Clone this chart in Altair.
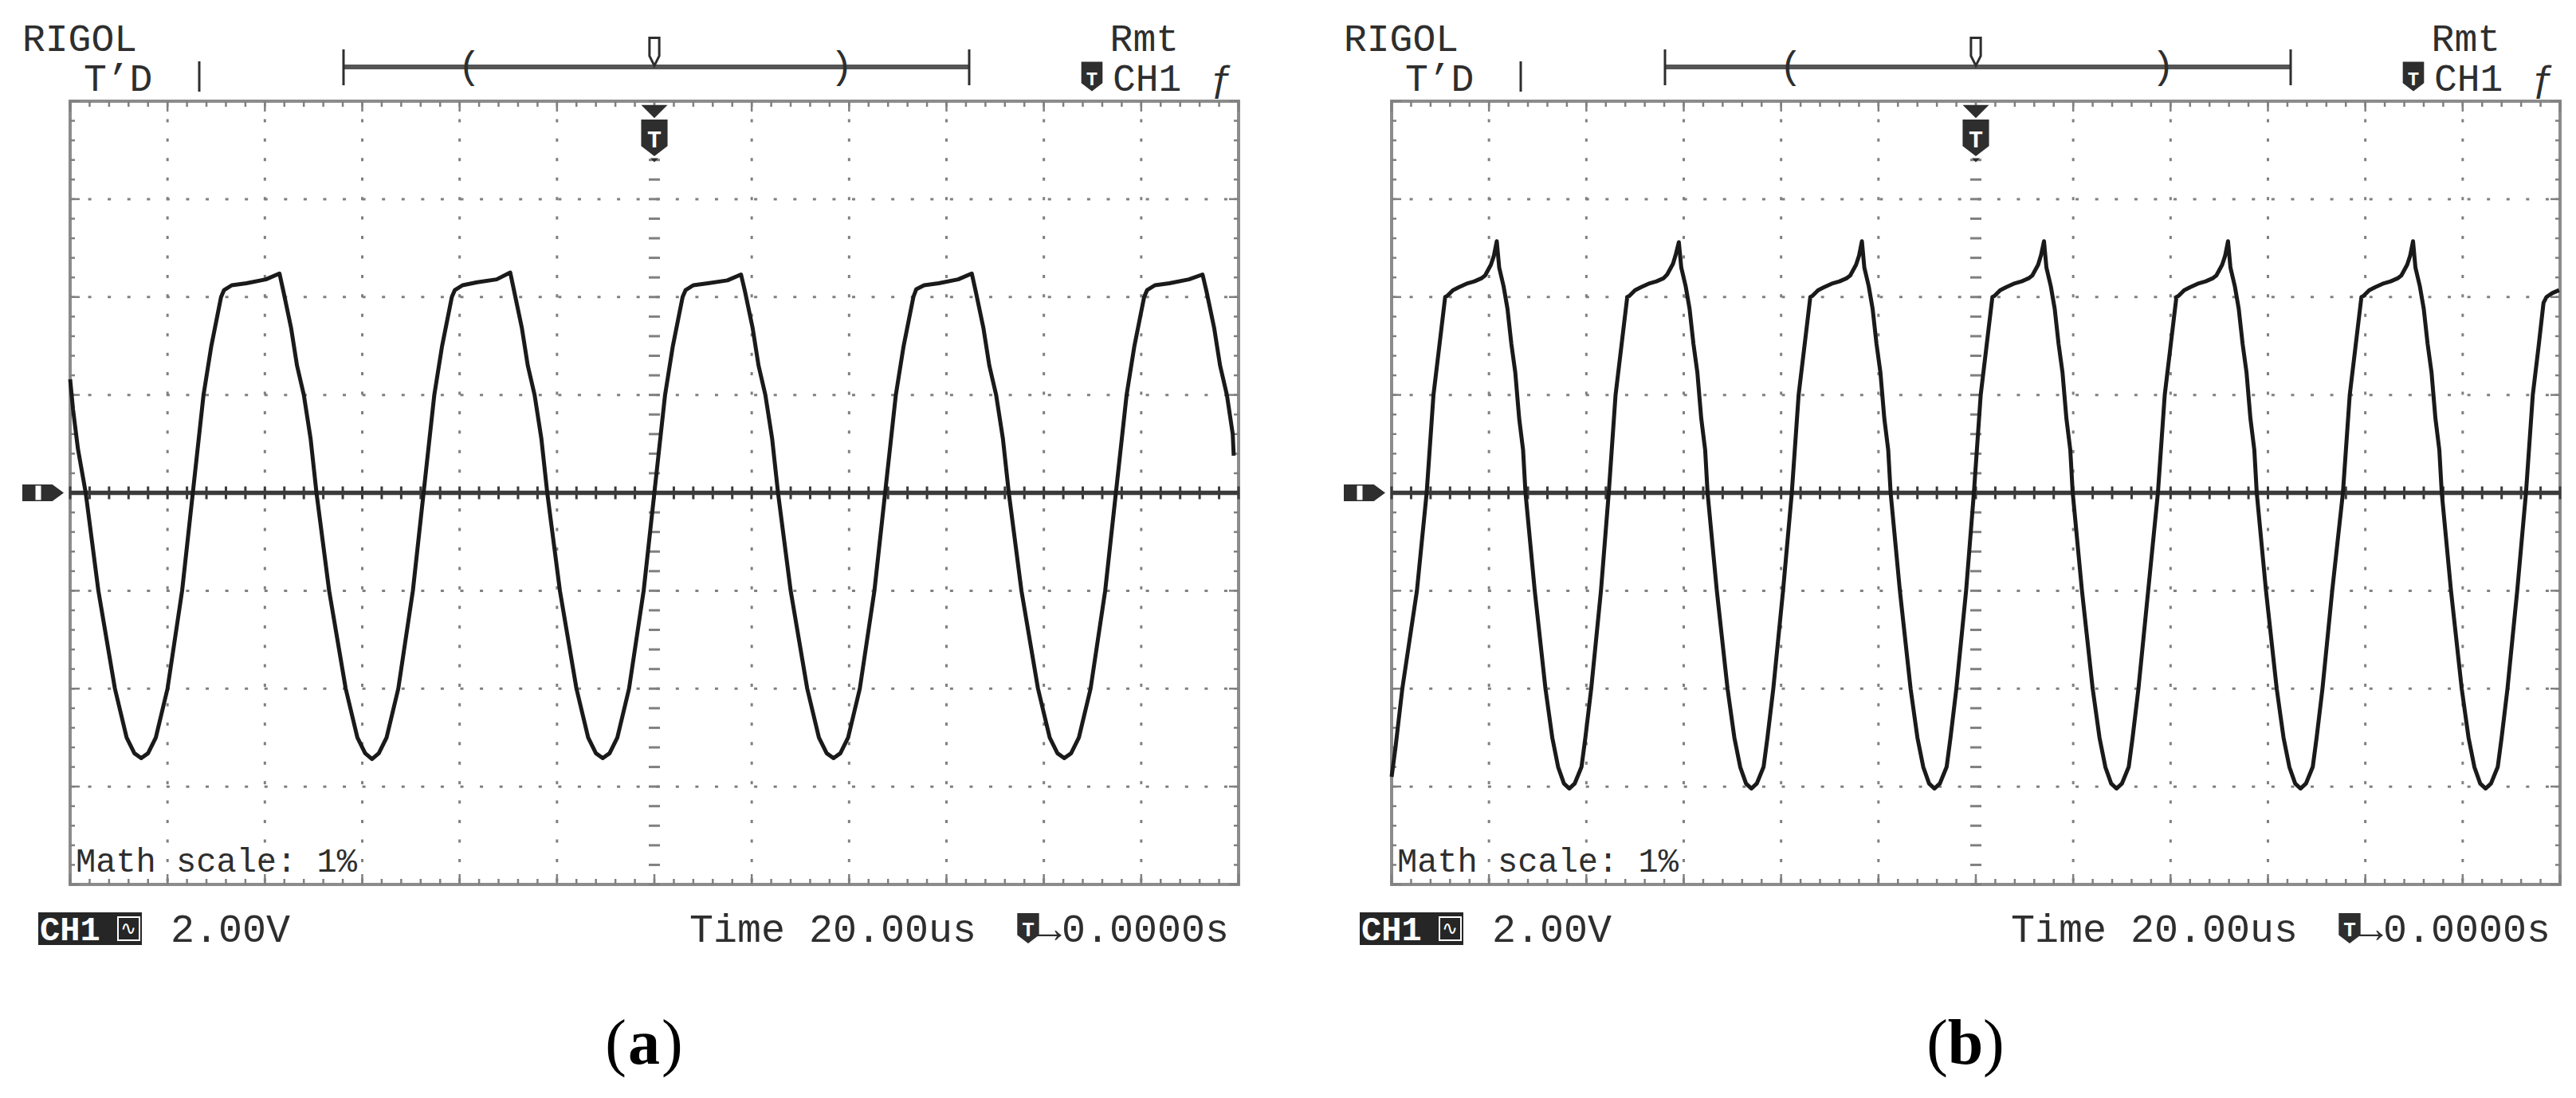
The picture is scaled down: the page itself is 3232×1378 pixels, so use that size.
import altair as alt
import pandas as pd

# ---------------- data read from the two oscilloscope screens ----------------
# x in horizontal divisions (0..12), y in vertical divisions (-4..4)
a_x = ([0.00, 0.03, 0.08]
       + [0.16, 0.29, 0.46, 0.58, 0.66, 0.73, 0.80, 0.88, 1.00, 1.15, 1.26, 1.37, 1.45, 1.55, 1.58, 1.66, 1.81, 2.01, 2.15, 2.19, 2.27, 2.33, 2.40, 2.47]
       + [2.53, 2.66, 2.83, 2.95, 3.03, 3.10, 3.17, 3.25, 3.37, 3.52, 3.63, 3.74, 3.82, 3.92, 3.95, 4.03, 4.18, 4.38, 4.52, 4.56, 4.64, 4.70, 4.77, 4.84]
       + [4.90, 5.03, 5.20, 5.32, 5.40, 5.47, 5.54, 5.62, 5.74, 5.89, 6.00, 6.11, 6.19, 6.29, 6.32, 6.40, 6.55, 6.75, 6.89, 6.93, 7.01, 7.07, 7.14, 7.21]
       + [7.27, 7.40, 7.57, 7.69, 7.77, 7.84, 7.91, 7.99, 8.11, 8.26, 8.37, 8.48, 8.56, 8.66, 8.69, 8.77, 8.92, 9.12, 9.26, 9.30, 9.38, 9.44, 9.51, 9.58]
       + [9.64, 9.77, 9.94, 10.06, 10.14, 10.21, 10.28, 10.36, 10.48, 10.63, 10.74, 10.85, 10.93, 11.03, 11.06, 11.14, 11.29, 11.49, 11.63, 11.67, 11.75, 11.81, 11.88, 11.94, 11.95])
a_y = ([1.16, 0.85, 0.45]
       + [0, -1, -2, -2.5, -2.66, -2.71, -2.66, -2.5, -2, -1, 0, 1, 1.5, 2.0, 2.07, 2.12, 2.14, 2.18, 2.24, 2.06, 1.68, 1.30, 1.0, 0.55]
       + [0, -1, -2, -2.5, -2.66, -2.72, -2.66, -2.5, -2, -1, 0, 1, 1.5, 2.0, 2.07, 2.12, 2.15, 2.18, 2.25, 2.06, 1.68, 1.30, 1.0, 0.55]
       + [0, -1, -2, -2.5, -2.66, -2.71, -2.66, -2.5, -2, -1, 0, 1, 1.5, 2.0, 2.07, 2.12, 2.14, 2.17, 2.23, 2.06, 1.68, 1.30, 1.0, 0.55]
       + [0, -1, -2, -2.5, -2.66, -2.71, -2.66, -2.5, -2, -1, 0, 1, 1.5, 2.0, 2.08, 2.12, 2.14, 2.18, 2.24, 2.06, 1.68, 1.30, 1.0, 0.55]
       + [0, -1, -2, -2.5, -2.66, -2.71, -2.66, -2.5, -2, -1, 0, 1, 1.5, 2.0, 2.07, 2.12, 2.14, 2.18, 2.23, 2.06, 1.68, 1.30, 1.0, 0.60, 0.38])

b_x = ([0.00, 0.04, 0.11, 0.26]
       + [0.36, 0.43, 0.49, 0.55, 0.57, 0.63, 0.69, 0.78, 0.85, 0.92, 0.96, 1.02, 1.05, 1.08, 1.105, 1.15, 1.19, 1.23, 1.27, 1.31, 1.35, 1.375, 1.47, 1.58, 1.65, 1.71, 1.77, 1.825, 1.88, 1.95, 1.99, 2.05, 2.15]
       + [2.23, 2.30, 2.36, 2.42, 2.44, 2.50, 2.56, 2.65, 2.72, 2.79, 2.83, 2.89, 2.92, 2.95, 2.975, 3.02, 3.06, 3.10, 3.14, 3.18, 3.22, 3.245, 3.34, 3.45, 3.52, 3.58, 3.64, 3.695, 3.75, 3.82, 3.86, 3.92, 4.02]
       + [4.11, 4.18, 4.24, 4.30, 4.32, 4.38, 4.44, 4.53, 4.60, 4.67, 4.71, 4.77, 4.80, 4.83, 4.855, 4.90, 4.94, 4.98, 5.02, 5.06, 5.10, 5.125, 5.22, 5.33, 5.40, 5.46, 5.52, 5.575, 5.63, 5.70, 5.74, 5.80, 5.90]
       + [5.98, 6.05, 6.11, 6.17, 6.19, 6.25, 6.31, 6.40, 6.47, 6.54, 6.58, 6.64, 6.67, 6.70, 6.725, 6.77, 6.81, 6.85, 6.89, 6.93, 6.97, 6.995, 7.09, 7.20, 7.27, 7.33, 7.39, 7.445, 7.50, 7.57, 7.61, 7.67, 7.77]
       + [7.87, 7.94, 8.00, 8.06, 8.08, 8.14, 8.20, 8.29, 8.36, 8.43, 8.47, 8.53, 8.56, 8.59, 8.615, 8.66, 8.70, 8.74, 8.78, 8.82, 8.86, 8.885, 8.98, 9.09, 9.16, 9.22, 9.28, 9.335, 9.39, 9.46, 9.50, 9.56, 9.66]
       + [9.77, 9.84, 9.90, 9.96, 9.98, 10.04, 10.10, 10.19, 10.26, 10.33, 10.37, 10.43, 10.46, 10.49, 10.515, 10.56, 10.60, 10.64, 10.68, 10.72, 10.76, 10.785, 10.88, 10.99, 11.06, 11.12, 11.18, 11.235, 11.29, 11.36, 11.40, 11.46, 11.56]
       + [11.65, 11.72, 11.78, 11.83, 11.86, 11.92, 11.99])
b_y = ([-2.9, -2.6, -2.0, -1.0]
       + [0, 1, 1.5, 2.0, 2.01, 2.07, 2.10, 2.14, 2.16, 2.19, 2.22, 2.33, 2.42, 2.57, 2.30, 2.11, 1.88, 1.52, 1.23, 0.76, 0.44, 0, -1, -2, -2.5, -2.8, -2.97, -3.02, -2.97, -2.8, -2.5, -2.0, -1.0]
       + [0, 1, 1.5, 2.0, 2.01, 2.07, 2.10, 2.14, 2.16, 2.19, 2.23, 2.34, 2.44, 2.56, 2.30, 2.11, 1.88, 1.52, 1.23, 0.76, 0.44, 0, -1, -2, -2.5, -2.8, -2.97, -3.02, -2.97, -2.8, -2.5, -2.0, -1.0]
       + [0, 1, 1.5, 2.0, 2.01, 2.07, 2.10, 2.14, 2.16, 2.19, 2.22, 2.33, 2.42, 2.57, 2.30, 2.11, 1.88, 1.52, 1.23, 0.76, 0.44, 0, -1, -2, -2.5, -2.8, -2.97, -3.02, -2.97, -2.8, -2.5, -2.0, -1.0]
       + [0, 1, 1.5, 2.0, 2.01, 2.07, 2.10, 2.14, 2.16, 2.19, 2.22, 2.33, 2.43, 2.57, 2.30, 2.11, 1.88, 1.52, 1.23, 0.76, 0.44, 0, -1, -2, -2.5, -2.8, -2.97, -3.02, -2.97, -2.8, -2.5, -2.0, -1.0]
       + [0, 1, 1.5, 2.0, 2.01, 2.07, 2.10, 2.14, 2.16, 2.19, 2.22, 2.33, 2.42, 2.57, 2.30, 2.11, 1.88, 1.52, 1.23, 0.76, 0.44, 0, -1, -2, -2.5, -2.8, -2.97, -3.02, -2.97, -2.8, -2.5, -2.0, -1.0]
       + [0, 1, 1.5, 2.0, 2.01, 2.07, 2.10, 2.14, 2.16, 2.19, 2.22, 2.33, 2.42, 2.57, 2.30, 2.11, 1.88, 1.52, 1.23, 0.76, 0.44, 0, -1, -2, -2.5, -2.8, -2.97, -3.02, -2.97, -2.8, -2.5, -2.0, -1.0]
       + [0, 1.0, 1.5, 1.94, 2.0, 2.04, 2.07])

# screen texts
header_left = "RIGOL"
header_mode = "T’D"
header_right = "Rmt"
header_trig = "CH1"
header_edge = "ƒ"
footer_ch = "CH1"
footer_volt = "2.00V"
footer_time = "Time 20.00us"
footer_pos = "→0.0000s"
math_text = "Math scale: 1%"
captions = ["a", "b"]

# grid structure (divisions)
GRID_X = [1, 2, 3, 4, 5, 7, 8, 9, 10, 11]
GRID_Y = [-3, -2, -1, 1, 2, 3]
MAJOR_X = list(range(0, 13))
MAJOR_Y = list(range(-4, 5))
MINOR_X = [round(i * 0.2, 1) for i in range(61)]
MINOR_Y = [round(-4 + i * 0.2, 1) for i in range(41)]

# ---------------- styling ----------------
W, H = 1466, 983
MONO = "Liberation Mono"
SERIF = "Liberation Serif"
INK = "#2e2e2e"
GRID = "#808080"
XS = alt.Scale(domain=[0, 12], nice=False, zero=False)
YS = alt.Scale(domain=[-4, 4], nice=False, zero=False)
ONE = pd.DataFrame({"k": [0]})

TRI_DOWN = "M-1,-0.5L1,-0.5L0,0.5Z"
SHIELD = "M-0.72,-1L0.72,-1L0.72,0.45L0,1L-0.72,0.45Z"
GROUND = "M-1,-0.4L0.45,-0.4L1,0L0.45,0.4L-1,0.4Z"
POSMARK = "M-0.35,-1L0.35,-1L0.35,0.3L0,1L-0.35,0.3Z"


def X(f):
    return alt.X(f, type="quantitative", scale=XS, axis=None)


def Y(f):
    return alt.Y(f, type="quantitative", scale=YS, axis=None)


def XD(v):
    return alt.XDatum(v, type="quantitative", scale=XS, axis=None)


def YD(v):
    return alt.YDatum(v, type="quantitative", scale=YS, axis=None)


def txt(s, x, y, size, align="left", color=INK, font=MONO, weight="normal"):
    return alt.Chart(ONE).mark_text(
        text=s, align=align, baseline="alphabetic", fontSize=size, font=font,
        fontWeight=weight, color=color
    ).encode(x=alt.value(x), y=alt.value(y))


def prule(x1, x2, y1, y2, color=INK, sw=3):
    return alt.Chart(ONE).mark_rule(color=color, strokeWidth=sw).encode(
        x=alt.value(x1), x2=alt.value(x2), y=alt.value(y1), y2=alt.value(y2))


def shape(path, x, y, size, fill=INK, stroke=None, sw=0):
    kw = dict(shape=path, size=size, filled=True, fill=fill, opacity=1, strokeWidth=sw)
    if stroke:
        kw["stroke"] = stroke
    return alt.Chart(ONE).mark_point(**kw).encode(x=x, y=y)


def panel(xs, ys, letter):
    trace = pd.DataFrame({"t": xs, "v": ys})
    L = []
    # dotted graticule
    L.append(alt.Chart(pd.DataFrame({"g": GRID_X})).mark_rule(
        color=GRID, strokeWidth=3, strokeDash=[4, W / 60 - 4], strokeDashOffset=2
    ).encode(x=X("g"), y=alt.value(0), y2=alt.value(H)))
    L.append(alt.Chart(pd.DataFrame({"g": GRID_Y})).mark_rule(
        color=GRID, strokeWidth=3, strokeDash=[4, H / 40 - 4], strokeDashOffset=2
    ).encode(y=Y("g"), x=alt.value(0), x2=alt.value(W)))
    # border ticks
    for vals, ln in ((MINOR_X, 7), (MAJOR_X, 13)):
        d = pd.DataFrame({"g": vals})
        L.append(alt.Chart(d).mark_rule(color=GRID, strokeWidth=2.5).encode(
            x=X("g"), y=alt.value(0), y2=alt.value(ln)))
        L.append(alt.Chart(d).mark_rule(color=GRID, strokeWidth=2.5).encode(
            x=X("g"), y=alt.value(H - ln), y2=alt.value(H)))
    for vals, ln in ((MINOR_Y, 6), (MAJOR_Y, 12)):
        d = pd.DataFrame({"g": vals})
        L.append(alt.Chart(d).mark_rule(color=GRID, strokeWidth=2.5).encode(
            y=Y("g"), x=alt.value(0), x2=alt.value(ln)))
        L.append(alt.Chart(d).mark_rule(color=GRID, strokeWidth=2.5).encode(
            y=Y("g"), x=alt.value(W - ln), x2=alt.value(W)))
    # centre cross
    L.append(alt.Chart(pd.DataFrame({"g": MINOR_Y})).mark_tick(
        orient="horizontal", size=14, thickness=3, color=GRID, opacity=1
    ).encode(x=XD(6), y=Y("g")))
    L.append(alt.Chart(ONE).mark_rule(color="#3a3a3a", strokeWidth=5.5).encode(
        y=YD(0), x=alt.value(0), x2=alt.value(W)))
    L.append(alt.Chart(pd.DataFrame({"g": MINOR_X})).mark_tick(
        orient="vertical", size=16, thickness=3, color="#3a3a3a", opacity=1
    ).encode(x=X("g"), y=YD(0)))
    # waveform
    L.append(alt.Chart(trace).mark_line(color="#1a1a1a", strokeWidth=5, strokeJoin="round").encode(
        x=X("t"), y=Y("v")))
    # trigger marker at top centre
    L.append(shape(TRI_DOWN, XD(6), alt.value(13), 1089))
    L.append(shape(SHIELD, XD(6), alt.value(46), 2116))
    L.append(alt.Chart(ONE).mark_text(text="T", fontSize=30, font=MONO, fontWeight="bold",
                                      color="white", baseline="alphabetic").encode(
        x=XD(6), y=alt.value(58)))
    L.append(shape(TRI_DOWN, XD(6), alt.value(74), 100))
    # ground marker on the left
    L.append(shape(GROUND, alt.value(-34), YD(0), 2704))
    L.append(prule(-40, -40, H / 2 - 9, H / 2 + 9, color="white", sw=7))
    # header
    L.append(txt(header_left, -60, -63, 48))
    L.append(txt(header_mode, 17, -13, 48))
    L.append(prule(162, 162, -50, -12, sw=3))
    L.append(prule(343, 1128, -43, -43, color="#555555", sw=6))
    L.append(prule(343, 343, -65, -20, sw=3))
    L.append(prule(1128, 1128, -65, -20, sw=3))
    L.append(txt("(", 501, -29, 48, align="center"))
    L.append(txt(")", 968, -29, 48, align="center"))
    L.append(shape(POSMARK, XD(6), alt.value(-62), 1225, fill="white", stroke=INK, sw=3))
    L.append(txt(header_right, 1391, -63, 48, align="right"))
    L.append(shape(SHIELD, alt.value(1282), alt.value(-31), 1369))
    L.append(txt("T", 1282, -20, 24, align="center", color="white", weight="bold"))
    L.append(txt(header_trig, 1308, -13, 48))
    L.append(txt(header_edge, 1445, -13, 48, align="center"))
    # inside text
    L.append(txt(math_text, 7, H - 16, 42))
    # footer
    L.append(alt.Chart(ONE).mark_rect(color="#262626").encode(
        x=alt.value(-40), x2=alt.value(90), y=alt.value(H + 35), y2=alt.value(H + 76)))
    L.append(txt(footer_ch, -38, H + 70, 42, color="white", weight="bold"))
    L.append(alt.Chart(ONE).mark_rect(fill="#262626", stroke="white", strokeWidth=2).encode(
        x=alt.value(60), x2=alt.value(87), y=alt.value(H + 41), y2=alt.value(H + 70)))
    L.append(txt("∿", 73, H + 63, 24, align="center", color="white", font="DejaVu Sans"))
    L.append(txt(footer_volt, 126, H + 72, 50))
    L.append(txt(footer_time, 777, H + 72, 50))
    L.append(shape(SHIELD, alt.value(1202), alt.value(H + 55), 1444))
    L.append(txt("T", 1202, H + 65, 26, align="center", color="white", weight="bold"))
    L.append(txt(footer_pos, 1214, H + 72, 50))
    # caption
    cx = 720
    L.append(txt("(", cx - 22, H + 225, 80, align="right", color="black", font=SERIF))
    L.append(txt(letter, cx, H + 225, 80, align="center", color="black", font=SERIF, weight="bold"))
    L.append(txt(")", cx + 22, H + 225, 80, align="left", color="black", font=SERIF))
    return alt.layer(*L).properties(width=W, height=H)


chart = alt.hconcat(
    panel(a_x, a_y, captions[0]),
    panel(b_x, b_y, captions[1]),
    spacing=192,
    bounds="flush",
).properties(
    padding={"left": 18, "top": 16, "right": 5, "bottom": 5},
    background="white",
).configure_view(stroke="#8c8c8c", strokeWidth=4)

chart.save("out.html", embed_options={"renderer": "svg", "actions": False})
